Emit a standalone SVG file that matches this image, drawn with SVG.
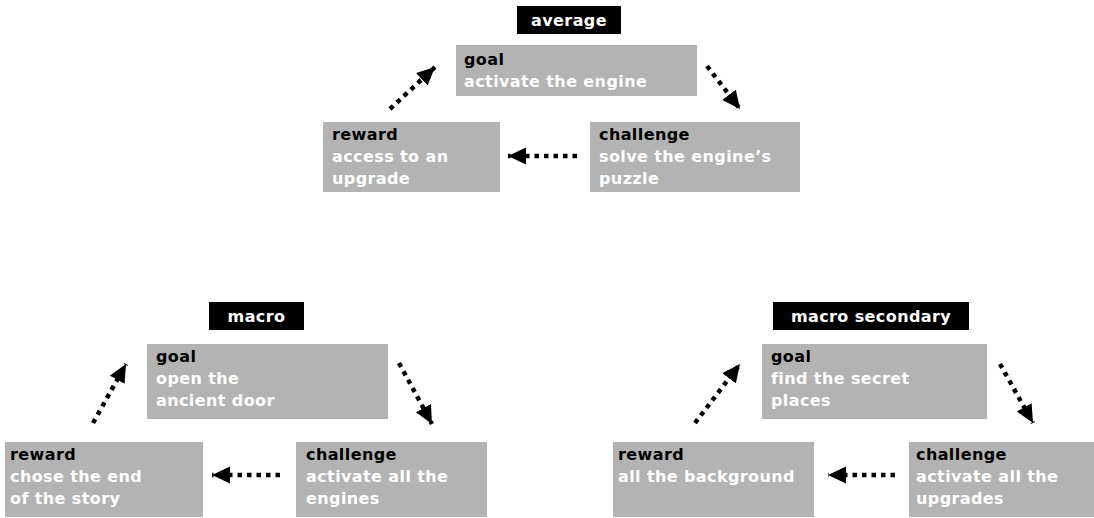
<svg xmlns="http://www.w3.org/2000/svg" width="1094" height="518" viewBox="0 0 1094 518">
<defs>
<style>
.box{fill:#b3b3b3}
.lbl{fill:#000}
text{font-family:"DejaVu Sans","Liberation Sans",sans-serif;font-weight:bold;font-size:16px;letter-spacing:0.4px}
.h{fill:#000}
.w{fill:#fff}
.lt{fill:#fff;text-anchor:middle}
.c{fill:none;stroke:#000;stroke-width:4.5;stroke-dasharray:4.5 5}
</style>
<marker id="ah" markerUnits="userSpaceOnUse" markerWidth="20" markerHeight="20" refX="18" refY="8.5" orient="auto">
<path d="M0,0 L18,8.5 L0,17 z" fill="#000"/>
</marker>
</defs>
<rect width="1094" height="518" fill="#fff"/>

<g id="average">
<g id="average-label"><rect class="lbl" x="517" y="6" width="104" height="28"/><text class="lt" x="569" y="26">average</text></g>
<g id="average-goal"><rect class="box" x="456" y="45" width="241" height="51"/><text class="h" x="464" y="65">goal</text><text class="w" x="464" y="87">activate the engine</text></g>
<g id="average-reward"><rect class="box" x="323" y="122" width="177" height="70"/><text class="h" x="332" y="140">reward</text><text class="w" x="332" y="162">access to an</text><text class="w" x="332" y="184">upgrade</text></g>
<g id="average-challenge"><rect class="box" x="590" y="122" width="210" height="70"/><text class="h" x="599" y="140">challenge</text><text class="w" x="599" y="162">solve the engine’s</text><text class="w" x="599" y="184">puzzle</text></g>
</g>

<g id="macro">
<g id="macro-label"><rect class="lbl" x="209" y="302" width="95" height="28"/><text class="lt" x="256.5" y="322">macro</text></g>
<g id="macro-goal"><rect class="box" x="147" y="344" width="241" height="75"/><text class="h" x="156" y="362">goal</text><text class="w" x="156" y="384">open the</text><text class="w" x="156" y="406">ancient door</text></g>
<g id="macro-reward"><rect class="box" x="5" y="442" width="198" height="75"/><text class="h" x="10" y="460">reward</text><text class="w" x="10" y="482">chose the end</text><text class="w" x="10" y="504">of the story</text></g>
<g id="macro-challenge"><rect class="box" x="296" y="442" width="191" height="75"/><text class="h" x="306" y="460">challenge</text><text class="w" x="306" y="482">activate all the</text><text class="w" x="306" y="504">engines</text></g>
</g>

<g id="macro-secondary">
<g id="ms-label"><rect class="lbl" x="773" y="302" width="196" height="28"/><text class="lt" x="871" y="322">macro secondary</text></g>
<g id="ms-goal"><rect class="box" x="762" y="344" width="225" height="75"/><text class="h" x="771" y="362">goal</text><text class="w" x="771" y="384">find the secret</text><text class="w" x="771" y="406">places</text></g>
<g id="ms-reward"><rect class="box" x="613" y="442" width="201" height="75"/><text class="h" x="618" y="460">reward</text><text class="w" x="618" y="482">all the background</text></g>
<g id="ms-challenge"><rect class="box" x="909" y="442" width="185" height="75"/><text class="h" x="916" y="460">challenge</text><text class="w" x="916" y="482">activate all the</text><text class="w" x="916" y="504">upgrades</text></g>
</g>

<g id="connectors">
<line class="c" x1="390" y1="109" x2="435" y2="67" marker-end="url(#ah)"/>
<line class="c" x1="707" y1="66" x2="740" y2="109" marker-end="url(#ah)"/>
<line class="c" x1="577" y1="156" x2="508" y2="156" marker-end="url(#ah)"/>
<line class="c" x1="93" y1="423" x2="126" y2="364" marker-end="url(#ah)"/>
<line class="c" x1="399" y1="363" x2="432" y2="424" marker-end="url(#ah)"/>
<line class="c" x1="280" y1="475" x2="212" y2="475" marker-end="url(#ah)"/>
<line class="c" x1="695" y1="423" x2="740" y2="364" marker-end="url(#ah)"/>
<line class="c" x1="1000" y1="364" x2="1033" y2="423" marker-end="url(#ah)"/>
<line class="c" x1="895" y1="475" x2="828" y2="475" marker-end="url(#ah)"/>
</g>
</svg>
